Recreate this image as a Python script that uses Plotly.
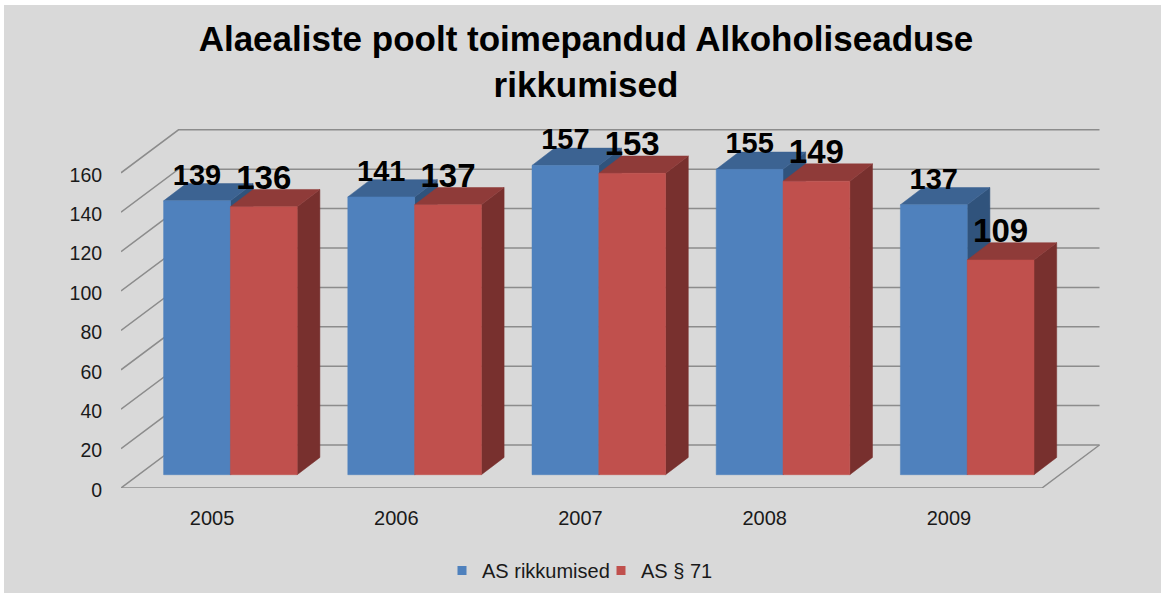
import plotly.graph_objects as go

years = ["2005", "2006", "2007", "2008", "2009"]
as_rikkumised = [139, 141, 157, 155, 137]
as_71 = [136, 137, 153, 149, 109]
y_ticks = [0, 20, 40, 60, 80, 100, 120, 140, 160]
title_text = "Alaealiste poolt toimepandud Alkoholiseaduse<br>rikkumised"

W, H = 1161, 593
L, R, T, B = 121, 1110, 100, 488
PX_X, PX_Y = 184.2, 1.97
WALL_DX, WALL_DY = 57.5 / PX_X, 43 / PX_Y
BASE_DX, BASE_DY = 17.8 / PX_X, 13.3 / PX_Y
BAR_DX, BAR_DY = 22.7 / PX_X, 17.3 / PX_Y
GAP, BAR_W = 24.8 / PX_X, 66.8 / PX_X
LABEL_SIZE = [29, 33]
LABEL_DY = [23.5 / PX_Y, 26.5 / PX_Y]
GRID = "#8c8c8c"
FONT = "Liberation Sans, Arial, sans-serif"
SERIES = [
    ("AS rikkumised", as_rikkumised, "#4f81bd", "#3c6392", "#30537c"),
    ("AS § 71", as_71, "#c0504d", "#8f3b39", "#78302e"),
]

fig = go.Figure()


def line(xs, ys):
    fig.add_trace(go.Scatter(x=xs, y=ys, mode="lines", line=dict(color=GRID, width=1.5),
                             showlegend=False, hoverinfo="skip", cliponaxis=False))


def poly(xs, ys, color):
    fig.add_trace(go.Scatter(x=xs + xs[:1], y=ys + ys[:1], mode="lines", fill="toself",
                             fillcolor=color, line=dict(color=color, width=0.5),
                             showlegend=False, hoverinfo="skip", cliponaxis=False))


n = len(years)
for v in y_ticks:
    line([0, WALL_DX, n + WALL_DX], [v, v + WALL_DY, v + WALL_DY])
line([0, n, n + WALL_DX], [0, 0, WALL_DY])

for i in range(n):
    for j, (_, vals, front, top, side) in enumerate(SERIES):
        x0 = i + BASE_DX + GAP + j * BAR_W
        x1 = x0 + BAR_W
        y0 = BASE_DY
        y1 = BASE_DY + vals[i]
        poly([x1, x1 + BAR_DX, x1 + BAR_DX, x1], [y0, y0 + BAR_DY, y1 + BAR_DY, y1], side)
        poly([x0, x1, x1 + BAR_DX, x0 + BAR_DX], [y1, y1, y1 + BAR_DY, y1 + BAR_DY], top)
        poly([x0, x1, x1, x0], [y0, y0, y1, y1], front)

for j, (_, vals, *_rest) in enumerate(SERIES):
    fig.add_trace(go.Scatter(
        x=[i + BASE_DX + GAP + (j + 0.5) * BAR_W for i in range(n)],
        y=[v + BASE_DY + LABEL_DY[j] for v in vals],
        mode="text", text=[str(v) for v in vals], textposition="middle center",
        textfont=dict(family=FONT, size=LABEL_SIZE[j], color="#000000"),
        texttemplate="<b>%{text}</b>",
        showlegend=False, hoverinfo="skip", cliponaxis=False))

for name, _, front, *_rest in SERIES:
    fig.add_trace(go.Scatter(x=[None], y=[None], mode="markers", name=name,
                             marker=dict(symbol="square", size=9, color=front)))

pw, ph = R - L, B - T
fig.update_layout(
    width=W, height=H, autosize=False,
    margin=dict(l=L, r=W - R, t=T, b=H - B, pad=0),
    paper_bgcolor="#ffffff", plot_bgcolor="rgba(0,0,0,0)",
    font=dict(family=FONT, color="#1a1a1a"),
    title=dict(text="<b>" + title_text + "</b>", x=586 / W, xanchor="center", xref="container",
               y=1 - 51 / H, yanchor="top", yref="container",
               font=dict(family=FONT, size=35, color="#000000")),
    xaxis=dict(range=[0, pw / PX_X], tickmode="array", tickvals=[i + 0.5 for i in range(n)],
               ticktext=years, showgrid=False, zeroline=False, showline=False,
               ticks="outside", ticklen=12, tickcolor="rgba(0,0,0,0)", tickfont=dict(size=20),
               ticklabelshift=-1),
    yaxis=dict(range=[0, ph / PX_Y], tickmode="array", tickvals=y_ticks, showgrid=False,
               zeroline=False, showline=False, ticks="outside", ticklen=14,
               tickcolor="rgba(0,0,0,0)", tickfont=dict(size=19.5), ticklabelshift=2),
    legend=dict(orientation="h", x=442 / W, xanchor="left", y=1 - 551 / H, yanchor="top",
                xref="container", yref="container", font=dict(size=20), itemwidth=30,
                bgcolor="rgba(0,0,0,0)", entrywidth=114, entrywidthmode="pixels"),
    shapes=[dict(type="rect", xref="paper", yref="paper", layer="below",
                 x0=(4 - L) / pw, x1=(W + 5 - L) / pw, y0=(B - H - 5) / ph, y1=(B - 5) / ph,
                 fillcolor="#d9d9d9", line=dict(width=0))],
)
fig.write_html("out.html", config={"displayModeBar": False},
               post_script="document.body.style.margin='0';document.body.style.overflow='hidden';")
